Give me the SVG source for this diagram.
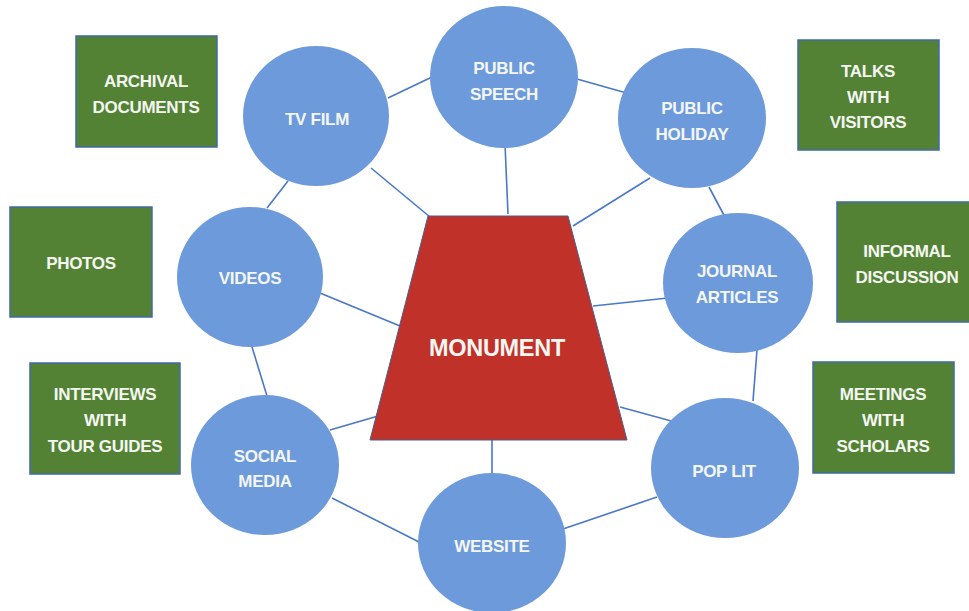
<svg xmlns="http://www.w3.org/2000/svg" width="969" height="611" viewBox="0 0 969 611">
<style>
.bg{fill:#ffffff}
.circ{fill:#6d9adb}
.box{fill:#548235;stroke:#3f6aa8;stroke-width:1.5}
.mon{fill:#c0312a;stroke:#4a5f8a;stroke-width:1}
.t{font-family:"Liberation Sans",Arial,sans-serif;font-size:17px;font-weight:bold;fill:#f4f6f2;text-anchor:middle;letter-spacing:-0.3px}
.big{font-size:23.5px}
#connectors line{stroke:#4a78c8;stroke-width:1.6}
</style>
<rect class="bg" x="0" y="0" width="969" height="611"/>
<g id="connectors">
<line x1="388" y1="98" x2="432" y2="77"/>
<line x1="371" y1="168" x2="430" y2="217"/>
<line x1="288" y1="181" x2="267" y2="208"/>
<line x1="320" y1="293" x2="400" y2="326"/>
<line x1="252" y1="347" x2="267" y2="396"/>
<line x1="330" y1="430" x2="385" y2="414"/>
<line x1="332" y1="498" x2="419" y2="542"/>
<line x1="492" y1="440" x2="492" y2="474"/>
<line x1="563" y1="529" x2="657" y2="497"/>
<line x1="620" y1="407" x2="675" y2="422"/>
<line x1="753" y1="401" x2="757" y2="350"/>
<line x1="593" y1="306" x2="668" y2="298"/>
<line x1="709" y1="187" x2="726" y2="219"/>
<line x1="650" y1="178" x2="573" y2="226"/>
<line x1="577" y1="79" x2="630" y2="94"/>
<line x1="505" y1="144" x2="508" y2="214"/>
</g>
<g id="monument">
<polygon class="mon" points="428,216 568,216 627,440 370,440"/>
<text class="t big" x="497" y="356">MONUMENT</text>
</g>
<g id="tvfilm">
<ellipse class="circ" cx="316" cy="116" rx="73" ry="70"/>
<text class="t" x="317" y="125">TV FILM</text>
</g>
<g id="publicspeech">
<ellipse class="circ" cx="504" cy="77" rx="74" ry="71"/>
<text class="t" x="504" y="74">PUBLIC</text>
<text class="t" x="504" y="100">SPEECH</text>
</g>
<g id="publicholiday">
<ellipse class="circ" cx="692" cy="118" rx="74" ry="70"/>
<text class="t" x="692" y="114">PUBLIC</text>
<text class="t" x="692" y="140">HOLIDAY</text>
</g>
<g id="journalarticles">
<ellipse class="circ" cx="738" cy="283" rx="75" ry="70"/>
<text class="t" x="737" y="277">JOURNAL</text>
<text class="t" x="737" y="303">ARTICLES</text>
</g>
<g id="videos">
<ellipse class="circ" cx="250" cy="277" rx="73" ry="70"/>
<text class="t" x="250" y="284">VIDEOS</text>
</g>
<g id="socialmedia">
<ellipse class="circ" cx="265" cy="465" rx="74" ry="70"/>
<text class="t" x="265" y="462">SOCIAL</text>
<text class="t" x="265" y="487">MEDIA</text>
</g>
<g id="website">
<ellipse class="circ" cx="492" cy="543" rx="74" ry="70"/>
<text class="t" x="492" y="552">WEBSITE</text>
</g>
<g id="poplit">
<ellipse class="circ" cx="725" cy="468" rx="74" ry="70"/>
<text class="t" x="724" y="477">POP LIT</text>
</g>
<g id="archival">
<rect class="box" x="76" y="36" width="141" height="111"/>
<text class="t" x="146" y="87">ARCHIVAL</text>
<text class="t" x="146" y="113">DOCUMENTS</text>
</g>
<g id="photos">
<rect class="box" x="10" y="207" width="142" height="110"/>
<text class="t" x="81" y="269">PHOTOS</text>
</g>
<g id="interviews">
<rect class="box" x="30" y="363" width="150" height="111"/>
<text class="t" x="105" y="400">INTERVIEWS</text>
<text class="t" x="105" y="426">WITH</text>
<text class="t" x="105" y="452">TOUR GUIDES</text>
</g>
<g id="talks">
<rect class="box" x="798" y="40" width="141" height="110"/>
<text class="t" x="868" y="77">TALKS</text>
<text class="t" x="868" y="103">WITH</text>
<text class="t" x="868" y="128">VISITORS</text>
</g>
<g id="informal">
<rect class="box" x="837" y="202" width="134" height="120"/>
<text class="t" x="907" y="257">INFORMAL</text>
<text class="t" x="907" y="283">DISCUSSION</text>
</g>
<g id="meetings">
<rect class="box" x="813" y="362" width="141" height="111"/>
<text class="t" x="883" y="400">MEETINGS</text>
<text class="t" x="883" y="426">WITH</text>
<text class="t" x="883" y="452">SCHOLARS</text>
</g>
</svg>
